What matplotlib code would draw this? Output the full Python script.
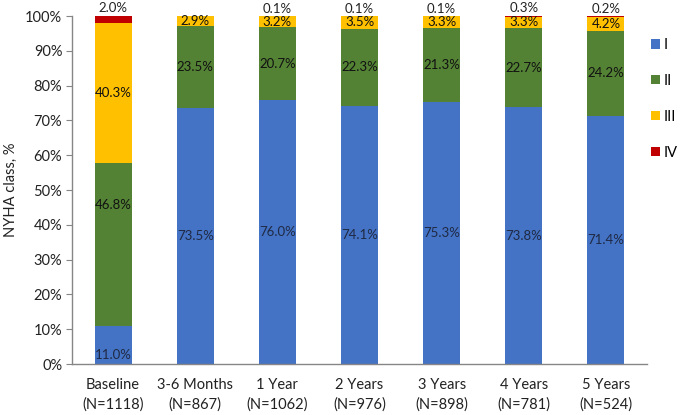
import matplotlib
matplotlib.use("Agg")
import matplotlib.pyplot as plt
import numpy as np

categories = ["Baseline\n(N=1118)", "3-6 Months\n(N=867)", "1 Year\n(N=1062)", "2 Years\n(N=976)",
              "3 Years\n(N=898)", "4 Years\n(N=781)", "5 Years\n(N=524)"]
class_I = [11.0, 73.5, 76.0, 74.1, 75.3, 73.8, 71.4]
class_II = [46.8, 23.5, 20.7, 22.3, 21.3, 22.7, 24.2]
class_III = [40.3, 2.9, 3.2, 3.5, 3.3, 3.3, 4.2]
class_IV = [2.0, 0.0, 0.1, 0.1, 0.1, 0.3, 0.2]
series_names = ["I", "II", "III", "IV"]

colors = ["#4472C4", "#548235", "#FFC000", "#C00000"]

plt.rcParams['font.family'] = ['Lato', 'DejaVu Sans']

fig = plt.figure(figsize=(6.8, 4.15), dpi=100)
ax = fig.add_axes([72/680, 1-364/415, 575/680, 348/415])

x = np.arange(len(categories))
series = [class_I, class_II, class_III, class_IV]
bottom = np.zeros(len(categories))
width = 0.45
for vals, c, name in zip(series, colors, series_names):
    v = np.array(vals)
    ax.bar(x, v, width, bottom=bottom, color=c, label=name, zorder=2)
    bottom = bottom + v

# labels
bottom = np.zeros(len(categories))
# manual label nudges (Excel-moved labels), in percentage points
nudge = {(0, 0): -3.0, (1, 0): 11.3}
lfs = 9.5
for si, vals in enumerate(series):
    v = np.array(vals)
    for i in range(len(categories)):
        if v[i] <= 0:
            continue
        if si == 3:
            ax.text(x[i], bottom[i] + v[i] + 0.4, f"{v[i]:.1f}%", ha="center", va="bottom",
                    fontsize=lfs, color="#222222", clip_on=False)
        else:
            y = bottom[i] + v[i] / 2 + nudge.get((si, i), 0)
            col = "#1F2A44" if si == 0 else "#111111"
            ax.text(x[i], y, f"{v[i]:.1f}%", ha="center", va="center", fontsize=lfs, color=col)
    bottom = bottom + v

tfs = 10.5
ax.set_xlim(-0.5, len(categories) - 0.5)
ax.set_ylim(0, 100)
ax.set_yticks(np.arange(0, 101, 10))
ax.set_yticklabels([f"{t}%" for t in range(0, 101, 10)], fontsize=tfs, color="#222222")
ax.set_xticks(x)
ax.set_xticklabels(categories, fontsize=tfs, color="#222222", linespacing=1.45)
ax.tick_params(axis="x", length=0, pad=10)
ax.tick_params(axis="y", length=4, color="#868686", direction="out", pad=3)
for s in ["top", "right"]:
    ax.spines[s].set_visible(False)
for s in ["left", "bottom"]:
    ax.spines[s].set_color("#868686")
    ax.spines[s].set_linewidth(1.0)
ax.set_ylabel("NYHA class, %", fontsize=tfs, color="#222222", labelpad=5)

leg = fig.legend(*ax.get_legend_handles_labels(), loc="upper left",
                 bbox_to_anchor=(651/680, 1 - 38/415), bbox_transform=fig.transFigure,
                 frameon=False, fontsize=tfs,
                 handlelength=0.62, handleheight=0.62, labelspacing=1.5, handletextpad=0.25,
                 borderaxespad=0, borderpad=0)

fig.savefig("out.png", dpi=100)
